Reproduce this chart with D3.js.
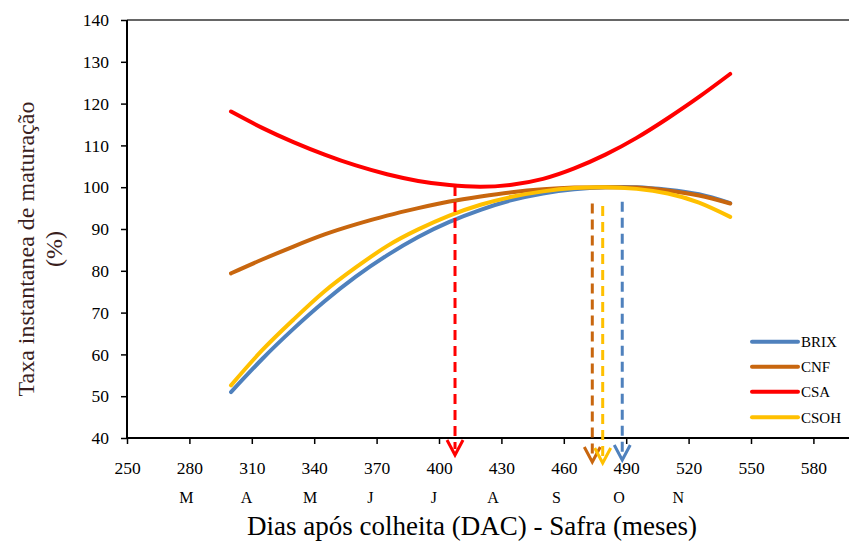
<!DOCTYPE html>
<html>
<head>
<meta charset="utf-8">
<script src="https://cdn.jsdelivr.net/npm/d3@7"></script>
<style>
  html, body { margin: 0; padding: 0; background: #fff; }
  svg { display: block; }
  svg text { font-family: "Liberation Serif", "Times New Roman", serif !important; }
</style>
</head>
<body>
<svg id="chart" width="849" height="544"></svg>
<script>
// ---- data ----
const days = [300, 315, 330, 345, 360, 375, 390, 405, 420, 435, 450, 465, 480, 495, 510, 525, 540];
const brix = [51.0, 58.9, 66.1, 72.7, 78.6, 83.7, 88.1, 91.7, 94.6, 96.9, 98.5, 99.5, 100.0, 100.0, 99.4, 98.3, 96.2];
const cnf  = [79.4, 82.7, 85.8, 88.7, 91.1, 93.2, 95.0, 96.6, 97.8, 98.8, 99.5, 99.9, 100.0, 99.9, 99.2, 98.0, 96.1];
const csa  = [118.1, 114.2, 110.8, 107.8, 105.2, 103.1, 101.5, 100.5, 100.1, 100.6, 102.0, 104.5, 107.8, 111.8, 116.5, 121.6, 127.1];
const csoh = [52.6, 61.0, 68.3, 75.1, 80.8, 85.9, 89.9, 93.2, 95.8, 97.7, 99.0, 99.8, 100.0, 99.6, 98.5, 96.3, 92.9];

const seriesNames = ["BRIX", "CNF", "CSA", "CSOH"];
const seriesColors = ["#4f81bd", "#c8660e", "#ff0000", "#ffc000"];

// optimum day markers (dashed arrows)
const markerSeries = ["CSA", "CNF", "CSOH", "BRIX"];
const markerDays   = [407.7, 473.7, 478.7, 488.1];
const markerTopVal = [100.3, 96.1, 95.5, 96.5];

const xTicks = [250, 280, 310, 340, 370, 400, 430, 460, 490, 520, 550, 580];
const yTicks = [40, 50, 60, 70, 80, 90, 100, 110, 120, 130, 140];
const monthLabels = ["M", "A", "M", "J", "J", "A", "S", "O", "N"];
const monthDays   = [278.5, 307.5, 338, 367, 397.5, 426, 456.5, 486.5, 515];

// ---- drawing ----
const svg = d3.select("#chart");
const W = 849, H = 544;
const mLeft = 127, mTop = 20, mBottom = 438;
const FONT = "'Liberation Serif', 'Times New Roman', serif";

const x = d3.scaleLinear().domain([250, 580]).range([mLeft, 813.4]);
const y = d3.scaleLinear().domain([40, 140]).range([mBottom, mTop]);

const dataBy = { BRIX: brix, CNF: cnf, CSA: csa, CSOH: csoh };
const colorBy = {};
seriesNames.forEach((n, i) => colorBy[n] = seriesColors[i]);

// frame top line
svg.append("line").attr("x1", mLeft).attr("x2", W).attr("y1", mTop).attr("y2", mTop)
  .attr("stroke", "#333").attr("stroke-width", 1.5);

// Y axis
const yAxis = svg.append("g").attr("transform", `translate(${mLeft},0)`)
  .call(d3.axisLeft(y).tickValues(yTicks).tickSize(6).tickPadding(12).tickFormat(d3.format("d")))
  .attr("font-family", FONT);
yAxis.select(".domain").attr("stroke", "#000").attr("stroke-width", 2).attr("d", `M0,${mTop}V${mBottom}`);
yAxis.selectAll(".tick line").attr("stroke", "#000").attr("stroke-width", 1.5);
yAxis.selectAll(".tick text").attr("font-size", 17.5).attr("fill", "#000").attr("font-family", FONT);

// X axis
const xAxis = svg.append("g").attr("transform", `translate(0,${mBottom})`)
  .call(d3.axisBottom(x).tickValues(xTicks).tickSize(6).tickPadding(18).tickFormat(d3.format("d")))
  .attr("font-family", FONT);
xAxis.select(".domain").attr("stroke", "#000").attr("stroke-width", 2).attr("d", `M${mLeft},0H${W}`);
xAxis.selectAll(".tick line").attr("stroke", "#000").attr("stroke-width", 1.5);
xAxis.selectAll(".tick text").attr("font-size", 17.5).attr("fill", "#000").attr("font-family", FONT);

// month labels
svg.append("g").selectAll("text").data(monthLabels).join("text")
  .attr("x", (d, i) => x(monthDays[i]))
  .attr("y", 503)
  .attr("text-anchor", "middle")
  .attr("font-size", 16)
  .attr("font-family", FONT)
  .attr("fill", "#000")
  .text(d => d);

// curves
const line = d3.line()
  .x((d, i) => x(days[i]))
  .y(d => y(d))
  .curve(d3.curveNatural);

seriesNames.forEach(n => {
  svg.append("path")
    .datum(dataBy[n])
    .attr("d", line)
    .attr("fill", "none")
    .attr("stroke", colorBy[n])
    .attr("stroke-width", 4)
    .attr("stroke-linecap", "round")
    .attr("stroke-linejoin", "round");
});

// dashed arrows
const tipY = { CSA: 455, CNF: 462, CSOH: 463, BRIX: 460 };
markerSeries.forEach((n, i) => {
  const mx = x(markerDays[i]);
  const y0 = y(markerTopVal[i]);
  const ty = tipY[n];
  const g = svg.append("g");
  g.append("line")
    .attr("x1", mx).attr("x2", mx).attr("y1", y0).attr("y2", ty - 6)
    .attr("stroke", colorBy[n]).attr("stroke-width", 3)
    .attr("stroke-dasharray", "10,6");
  g.append("path")
    .attr("d", `M${mx - 8},${ty - 15}L${mx},${ty}L${mx + 8},${ty - 15}`)
    .attr("fill", "none")
    .attr("stroke", colorBy[n]).attr("stroke-width", 3)
    .attr("stroke-linejoin", "miter");
});

// legend
const legendY = [341.7, 366.7, 391.7, 417.3];
const lg = svg.append("g");
seriesNames.forEach((n, i) => {
  lg.append("line").attr("x1", 752).attr("x2", 798).attr("y1", legendY[i]).attr("y2", legendY[i])
    .attr("stroke", colorBy[n]).attr("stroke-width", 4).attr("stroke-linecap", "round");
  lg.append("text").attr("x", 801).attr("y", legendY[i]).attr("dy", "0.35em")
    .attr("font-size", 15).attr("font-family", FONT).attr("fill", "#000").text(n);
});

// axis titles
svg.append("text")
  .attr("x", 472).attr("y", 535)
  .attr("text-anchor", "middle")
  .attr("font-size", 27)
  .attr("font-family", FONT)
  .attr("fill", "#000")
  .text("Dias após colheita (DAC) - Safra (meses)");

svg.append("text")
  .attr("transform", "translate(34,249) rotate(-90)")
  .attr("text-anchor", "middle")
  .attr("font-size", 24)
  .attr("font-family", FONT)
  .attr("fill", "#3a1e1e")
  .text("Taxa instantanea de maturação");

svg.append("text")
  .attr("transform", "translate(62,249) rotate(-90)")
  .attr("text-anchor", "middle")
  .attr("font-size", 24)
  .attr("font-family", FONT)
  .attr("fill", "#3a1e1e")
  .text("(%)");
</script>
</body>
</html>
